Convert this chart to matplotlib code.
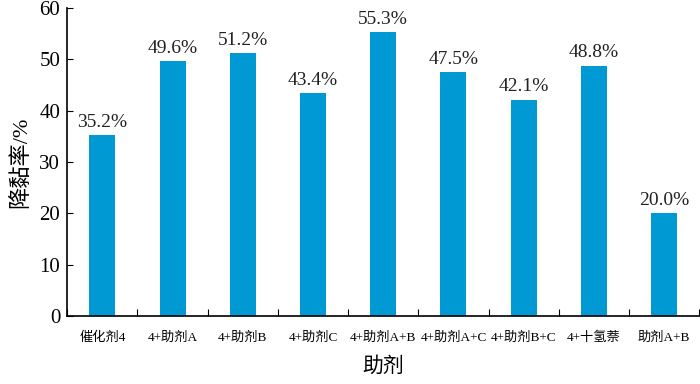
import numpy as np
import matplotlib
matplotlib.use('Agg')
from matplotlib import pyplot as plt

categories = ['催化剂4', '4+助剂A', '4+助剂B', '4+助剂C', '4+助剂A+B',
              '4+助剂A+C', '4+助剂B+C', '4+十氢萘', '助剂A+B']
values = [35.2, 49.6, 51.2, 43.4, 55.3, 47.5, 42.1, 48.8, 20.0]
labels = ['35.2%', '49.6%', '51.2%', '43.4%', '55.3%', '47.5%', '42.1%', '48.8%', '20.0%']

fam = ['Liberation Serif', 'Noto Sans CJK SC']
plt.rcParams['font.family'] = fam

fig = plt.figure(figsize=(7, 3.84), dpi=100)
ax = fig.add_axes([0.096, 0.177, 0.903, 0.802])

x = np.arange(len(categories))
ax.bar(x, values, width=0.37, color='#0099d4')
for xi, v, t in zip(x, values, labels):
    ax.text(xi, v + 0.9, t, ha='center', va='bottom', fontsize=14, color='#222222')

ax.set_xlim(-0.5, len(categories) - 0.5)
ax.set_ylim(0, 60)
ax.set_yticks(np.arange(0, 61, 10))
ax.tick_params(axis='y', direction='in', length=4, labelsize=15, pad=5)

# boundary ticks (major, no labels) and centered labels (minor)
ax.set_xticks(np.arange(len(categories) + 1) - 0.5)
ax.set_xticklabels([])
ax.set_xticks(x, minor=True)
ax.set_xticklabels(categories, minor=True, fontsize=9.5)
ax.tick_params(axis='x', which='major', direction='in', length=5)
ax.tick_params(axis='x', which='minor', length=0, pad=11)

ax.spines['top'].set_visible(False)
ax.spines['right'].set_visible(False)
for s in ['left', 'bottom']:
    ax.spines[s].set_linewidth(1.2)

ax.set_ylabel('降黏率/%', fontsize=16, labelpad=6)
ax.set_xlabel('助剂', fontsize=15, labelpad=10)

fig.savefig('out.png', dpi=100)
